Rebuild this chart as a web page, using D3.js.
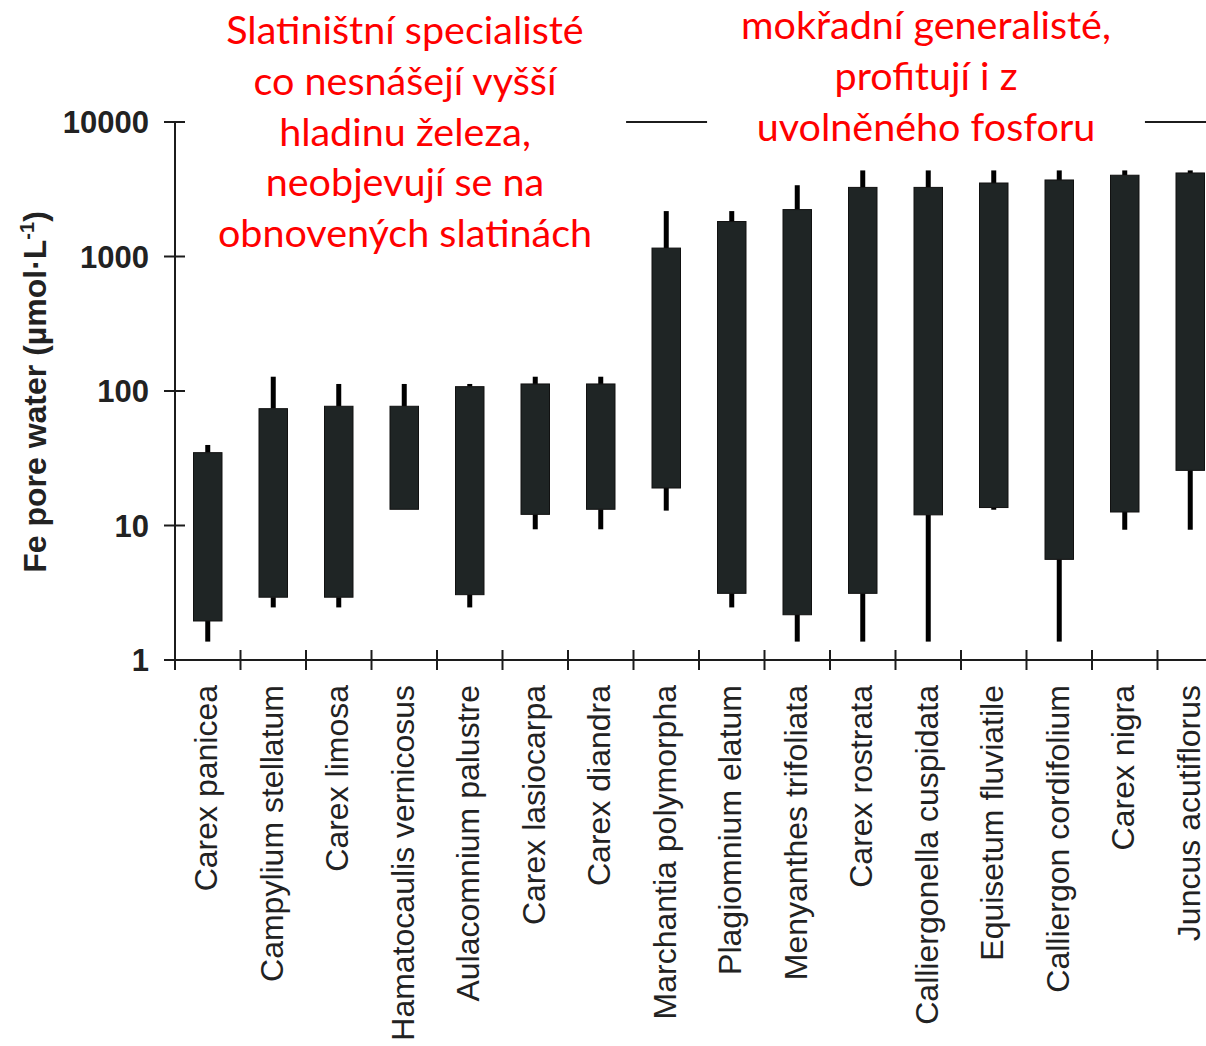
<!DOCTYPE html>
<html lang="cs">
<head>
<meta charset="utf-8">
<title>Fe pore water</title>
<script src="https://d3js.org/d3.v7.min.js"></script>
<style>
  body { margin: 0; background: #fff; }
</style>
</head>
<body>
<script>

var width = 1206,
    height = 1046;

// species along the x axis
var species = [
  "Carex panicea", "Campylium stellatum", "Carex limosa", "Hamatocaulis vernicosus",
  "Aulacomnium palustre", "Carex lasiocarpa", "Carex diandra", "Marchantia polymorpha",
  "Plagiomnium elatum", "Menyanthes trifoliata", "Carex rostrata", "Calliergonella cuspidata",
  "Equisetum fluviatile", "Calliergon cordifolium", "Carex nigra", "Juncus acutiflorus"
];

// Fe in pore water (umol/L)
var whiskerLow  = [1.37, 2.46, 2.46, 13.2, 2.46, 9.37, 9.37, 12.9, 2.46, 1.37, 1.37, 1.37, 13.1, 1.37, 9.3, 9.3];
var boxLow      = [1.95, 2.93, 2.93, 13.2, 3.06, 12.1, 13.2, 19.0, 3.13, 2.17, 3.13, 12.0, 13.6, 5.6, 12.6, 25.7];
var boxHigh     = [34.8, 73.9, 77, 77, 107.7, 112.8, 112.8, 1155, 1820, 2233, 3264, 3264, 3519, 3706, 4020, 4178];
var whiskerHigh = [39.7, 127.7, 112.8, 112.8, 112.8, 127.7, 127.7, 2176, 2176, 3388, 4366, 4366, 4366, 4366, 4366, 4366];

var yTicks = [1, 10, 100, 1000, 10000];

var specialistNote = [
  "Slatiništní specialisté",
  "co nesnášejí vyšší",
  "hladinu železa,",
  "neobjevují se na",
  "obnovených slatinách"
];
var generalistNote = [
  "mokřadní generalisté,",
  "profitují i z",
  "uvolněného fosforu"
];

var svg = d3.select("body").append("svg")
    .attr("width", width)
    .attr("height", height);

var x = d3.scaleBand()
    .domain(species)
    .range([175, 175 + 65.5 * species.length]);

var y = d3.scaleLog()
    .domain([1, 10000])
    .range([660, 122]);

var x0 = x.range()[0],
    ink = "#1c1c1c";

// top reference line, partly hidden behind the notes
svg.append("line")
    .attr("x1", x0).attr("x2", width)
    .attr("y1", y(10000)).attr("y2", y(10000))
    .attr("stroke", ink).attr("stroke-width", 2);

// red notes on white boxes
function note(lines, cx, top) {
  var g = svg.append("g");
  var bg = g.append("rect").attr("fill", "#fff");
  var t = g.append("text")
      .attr("text-anchor", "middle")
      .attr("font-family", "Lato, 'Open Sans', sans-serif")
      .attr("font-size", 39.5)
      .attr("fill", "#ff0000");
  t.selectAll("tspan")
    .data(lines)
    .enter().append("tspan")
      .attr("x", cx)
      .attr("y", function(d, i) { return top + i * 50.8; })
      .text(function(d) { return d; });
  var b = t.node().getBBox();
  bg.attr("x", b.x - 34).attr("y", b.y)
    .attr("width", b.width + 68).attr("height", b.height);
}
note(specialistNote, 405, 44);
note(generalistNote, 926, 39);

// whiskers
var idx = d3.range(species.length);
var cx = function(i) { return x(species[i]) + x.bandwidth() / 2; };

svg.append("g").selectAll("line.up")
  .data(idx)
  .enter().append("line")
    .attr("x1", cx).attr("x2", cx)
    .attr("y1", function(i) { return y(boxHigh[i]); })
    .attr("y2", function(i) { return y(whiskerHigh[i]); })
    .attr("stroke", "#000").attr("stroke-width", 5);

svg.append("g").selectAll("line.down")
  .data(idx)
  .enter().append("line")
    .attr("x1", cx).attr("x2", cx)
    .attr("y1", function(i) { return y(boxLow[i]); })
    .attr("y2", function(i) { return y(whiskerLow[i]); })
    .attr("stroke", "#000").attr("stroke-width", 5);

// boxes
var bw = x.bandwidth() * 0.435;
svg.append("g").selectAll("rect")
  .data(idx)
  .enter().append("rect")
    .attr("x", function(i) { return cx(i) - bw / 2; })
    .attr("width", bw)
    .attr("y", function(i) { return y(boxHigh[i]); })
    .attr("height", function(i) { return y(boxLow[i]) - y(boxHigh[i]); })
    .attr("fill", "#1f2525")
    .attr("stroke", "#111")
    .attr("stroke-width", 1);

// y axis
svg.append("line")
    .attr("x1", x0).attr("x2", x0)
    .attr("y1", y(10000)).attr("y2", y(1) + 10)
    .attr("stroke", ink).attr("stroke-width", 2);

svg.append("g").selectAll("line")
  .data(yTicks)
  .enter().append("line")
    .attr("x1", x0 - 11).attr("x2", x0 + 10)
    .attr("y1", y).attr("y2", y)
    .attr("stroke", ink).attr("stroke-width", 2);

svg.append("g").selectAll("text")
  .data(yTicks)
  .enter().append("text")
    .attr("x", x0 - 26)
    .attr("y", y)
    .attr("dy", "0.36em")
    .attr("text-anchor", "end")
    .attr("font-family", "'Liberation Sans', Arial, sans-serif")
    .attr("font-weight", "bold")
    .attr("font-size", 31)
    .attr("fill", "#222")
    .text(function(d) { return d; });

// y axis title
var title = svg.append("text")
    .attr("transform", "translate(46," + 392 + ") rotate(-90)")
    .attr("text-anchor", "middle")
    .attr("font-family", "'Liberation Sans', Arial, sans-serif")
    .attr("font-weight", "bold")
    .attr("font-size", 32)
    .attr("fill", "#222");
title.append("tspan").text("Fe pore water (µmol·L");
title.append("tspan").attr("dy", -12).attr("font-size", 20).text("-1");
title.append("tspan").attr("dy", 12).text(")");

// x axis
svg.append("line")
    .attr("x1", x0).attr("x2", width)
    .attr("y1", y(1)).attr("y2", y(1))
    .attr("stroke", ink).attr("stroke-width", 2);

svg.append("g").selectAll("line")
  .data(species.slice(1))
  .enter().append("line")
    .attr("x1", x).attr("x2", x)
    .attr("y1", y(1) - 10).attr("y2", y(1) + 10)
    .attr("stroke", ink).attr("stroke-width", 2);

svg.append("g").selectAll("text")
  .data(species)
  .enter().append("text")
    .attr("transform", function(d) {
      return "translate(" + (x(d) + x.bandwidth() / 2 - 2) + "," + (y(1) + 25) + ") rotate(-90)";
    })
    .attr("dy", "0.36em")
    .attr("text-anchor", "end")
    .attr("font-family", "'Liberation Sans', Arial, sans-serif")
    .attr("font-size", 32)
    .attr("fill", "#222")
    .text(function(d) { return d; });

</script>
</body>
</html>
